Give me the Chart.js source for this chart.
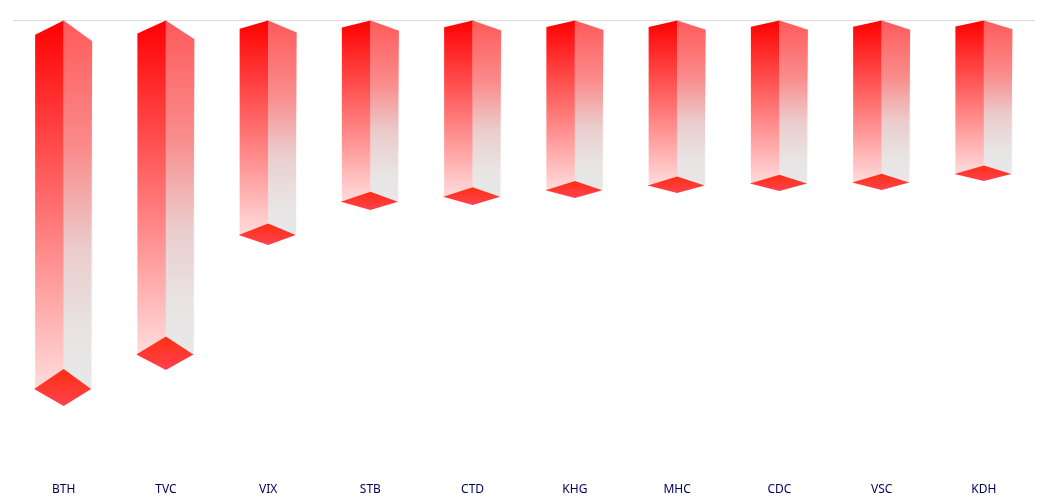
<!DOCTYPE html>
<html>
<head>
<meta charset="utf-8">
<style>
html, body { margin: 0; padding: 0; background: #fff; }
#chart { display: block; }
</style>
<script src="https://cdn.jsdelivr.net/npm/chart.js@4/dist/chart.umd.min.js"></script>
</head>
<body>
<canvas id="chart" width="1055" height="500"></canvas>
<script>
const categories = ['BTH', 'TVC', 'VIX', 'STB', 'CTD', 'KHG', 'MHC', 'CDC', 'VSC', 'KDH']
const values = [-38.6, -35.0, -22.5, -19.0, -18.5, -17.8, -17.3, -17.1, -17.0, -16.1]

function fillFace(ctx, pts, top, bottom, stops) {
    const grad = ctx.createLinearGradient(0, top, 0, bottom)
    stops.forEach(s => grad.addColorStop(s[0], s[1]))
    ctx.fillStyle = grad
    ctx.beginPath()
    pts.forEach((p, i) => i ? ctx.lineTo(p[0], p[1]) : ctx.moveTo(p[0], p[1]))
    ctx.closePath()
    ctx.fill()
}

// the 3d prism is painted on top of each (invisible) bar element
const prismPlugin = {
    id: 'prism',
    afterDatasetsDraw(chart) {
        const ctx = chart.ctx
        chart.getDatasetMeta(0).data.forEach(bar => {
            const len = bar.y - bar.base
            const left = bar.x - bar.width / 2
            const right = bar.x + bar.width / 2
            const tipDepth = len * 0.096
            const floorTop = bar.y - tipDepth
            const floorSide = bar.y - tipDepth * 0.46
            const capLeft = bar.base + len * 0.037
            const capRight = bar.base + len * 0.054

            ctx.save()
            ctx.shadowColor = 'rgba(0,0,0,0.1)'
            ctx.shadowBlur = 2
            fillFace(ctx, [[bar.x, bar.base], [right, capRight], [right - 1, floorSide], [bar.x, floorTop]],
                bar.base, floorSide,
                [[0, '#ff5a5a'], [0.35, '#fa8c8c'], [0.62, '#ebcccc'], [0.85, '#e8e4e4'], [1, '#e8e8e8']])
            ctx.shadowColor = 'transparent'
            fillFace(ctx, [[bar.x, bar.base], [left, capLeft], [left, floorSide], [bar.x, floorTop]],
                bar.base, floorSide,
                [[0, '#ff0000'], [1, '#ffdcdc']])
            fillFace(ctx, [[bar.x, floorTop], [right - 1, floorSide], [bar.x, bar.y], [left - 1, floorSide]],
                floorTop, bar.y,
                [[0, '#ff3010'], [1, '#ff4050']])
            ctx.restore()
        })
    }
}

new Chart(document.getElementById('chart'), {
    type: 'bar',
    data: {
        labels: categories,
        datasets: [{
            data: values,
            backgroundColor: 'rgba(0,0,0,0)',
            barThickness: 57
        }]
    },
    options: {
        responsive: false,
        animation: false,
        layout: { padding: { left: 12.5, right: 20, top: 20, bottom: 0 } },
        plugins: { legend: { display: false }, tooltip: { enabled: false } },
        scales: {
            x: {
                position: 'bottom',
                afterFit: scale => { scale.height = 30 },
                grid: { display: false },
                border: { display: false },
                ticks: { color: '#00005c', font: { family: 'Noto Sans', size: 12 }, padding: 4 }
            },
            y: {
                min: -45,
                max: 0,
                ticks: { display: false, stepSize: 45 },
                border: { display: false },
                grid: {
                    drawTicks: false,
                    color: c => c.tick.value === 0 ? '#dcdcdc' : 'rgba(0,0,0,0)'
                }
            }
        }
    },
    plugins: [prismPlugin]
})
</script>
</body>
</html>
